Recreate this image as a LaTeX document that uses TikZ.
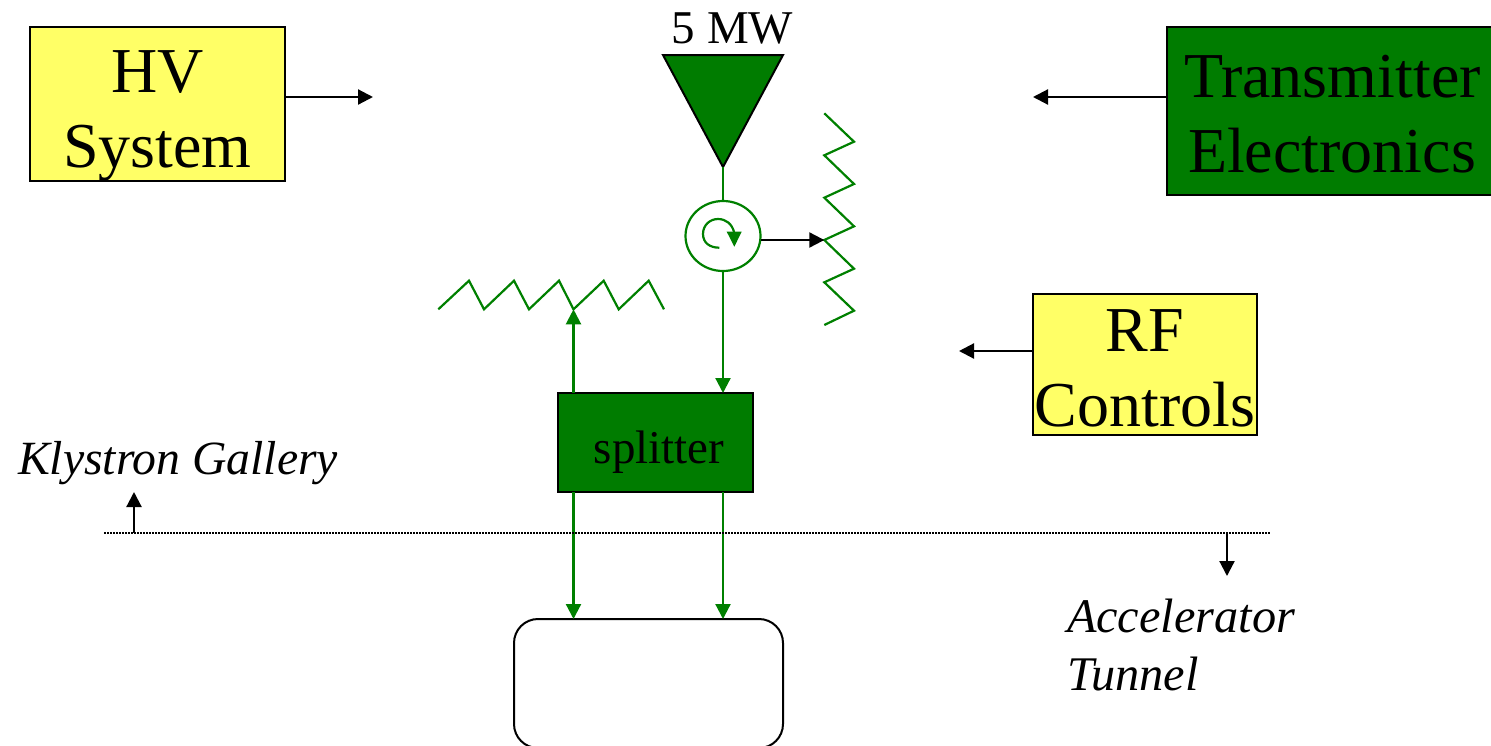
\documentclass[tikz,border=0pt]{standalone}
\usepackage{fontspec}
\setmainfont{Liberation Serif}
\usetikzlibrary{arrows.meta,shapes.geometric}
\definecolor{dgreen}{HTML}{007C00}
\definecolor{lgreen}{HTML}{008000}
\definecolor{yel}{HTML}{FFFF66}
\newcommand{\lowerby}[2]{\raisebox{-#1}[45pt][14pt]{#2}}
\tikzset{
  every node/.style={outer sep=0pt},
  bigtext/.style={font=\fontsize{64}{75}\selectfont,align=center,inner sep=0pt,draw=black,line width=2pt},
  midtext/.style={font=\fontsize{47}{56}\selectfont,inner sep=0pt},
  ital/.style={font=\fontsize{48.3}{58}\itshape\selectfont,inner sep=0pt,anchor=base west,align=left},
  blk/.style={line width=2.2pt,draw=black,-{Triangle[length=15pt,width=15pt]}},
  grn/.style={line width=2.2pt,draw=lgreen,-{Triangle[length=15pt,width=15pt]}},
  zig/.style={line width=2.2pt,draw=lgreen,line join=miter},
}
\begin{document}
\begin{tikzpicture}[x=1pt,y=-1pt]
\path[use as bounding box,clip] (0,0) rectangle (1491,745);
\node[bigtext,fill=yel,minimum width=255pt,minimum height=154pt] (hv) at (157.5,104) {\lowerby{10pt}{HV}\\\lowerby{10pt}{System}};
\node[bigtext,fill=dgreen,minimum width=330pt,minimum height=168pt] (tx) at (1332,111) {\hspace*{1pt}\lowerby{8pt}{Transmitter}\\\lowerby{8pt}{Electronics}};
\node[bigtext,fill=yel,minimum width=224pt,minimum height=141pt] (rf) at (1145,364.5) {\lowerby{9pt}{RF}\\\lowerby{9pt}{Controls}};
\node[midtext,draw=black,line width=2pt,fill=dgreen,minimum width=195pt,minimum height=99pt] (sp) at (655.5,442.5) {\hspace*{7pt}\raisebox{-10.5pt}[30pt][10pt]{splitter}};
\node[draw=black,line width=2pt,rounded corners=24pt,minimum width=269pt,minimum height=129pt,inner sep=0pt] (tun) at (648.5,683.5) {};
\node[midtext,anchor=base] (mw) at (732.5,43) {5 MW};
\node[draw=black,line width=2pt,fill=dgreen,isosceles triangle,shape border rotate=-90,isosceles triangle stretches,minimum width=120pt,minimum height=112pt,inner sep=0pt,anchor=apex] (kly) at (723,167) {};
\node[draw=lgreen,line width=2.2pt,ellipse,minimum width=75pt,minimum height=70pt,inner sep=0pt] (circ) at (723,236) {};
\draw[line width=2.2pt,lgreen] (kly.apex) -- (circ.north);
\coordinate (zr) at (824.3,240);
\coordinate (zl) at (573.5,309.3);
\draw[zig] (824.3,113.3) -- (854,141.7) -- (824.3,155.3) -- (854,184) -- (824.3,197.7) -- (854,226.3) -- (zr) -- (854,268.7) -- (824.3,282.3) -- (854,310.7) -- (824.3,325);
\draw[zig] (438.3,309.3) -- (469,280.7) -- (484,309.3) -- (514,280.7) -- (529,309.3) -- (559,280.7) -- (zl) -- (603.7,280.7) -- (618.7,309.3) -- (648.7,280.7) -- (664,309.3);
\draw[blk] (circ.east |- zr) -- (zr);
\draw[grn] (circ.south) -- (sp.north -| circ.south);
\draw[grn] (sp.north -| zl) -- (zl);
\draw[grn] (sp.south -| zl) -- (tun.north -| zl);
\draw[grn] (sp.south -| circ.south) -- (tun.north -| circ.south);
\draw[line width=2.2pt,lgreen] (719.3,247.7) .. controls (710,247.7) and (703,243) .. (703,234) .. controls (703,225) and (710,219) .. (718,219) .. controls (726,219) and (732,224) .. (734,232);
\fill[lgreen] (726.7,231.7) -- (741.7,231.7) -- (734.3,246.7) -- cycle;
\coordinate (a1) at (373,97);
\coordinate (a2) at (1033,97);
\coordinate (a3) at (959,351);
\draw[blk] (hv.east |- a1) -- (a1);
\draw[blk] (tx.west |- a2) -- (a2);
\draw[blk] (rf.west |- a3) -- (a3);
\coordinate (d1) at (104,533);
\coordinate (d2) at (1270,533);
\coordinate (u1) at (134,533);
\coordinate (u2) at (134,492);
\coordinate (v1) at (1227,533);
\coordinate (v2) at (1227,576);
\draw[line width=1.5pt,black,dash pattern=on 1.5pt off 1.5pt] (d1) -- (d2);
\draw[blk] (u1) -- (u2);
\draw[blk] (v1) -- (v2);
\node[ital,font=\fontsize{47.7}{58}\itshape\selectfont] (kg) at (18,474) {Klystron Gallery};
\node[ital] (at) at (1067,690) {Accelerator\\Tunnel};
\end{tikzpicture}
\end{document}
